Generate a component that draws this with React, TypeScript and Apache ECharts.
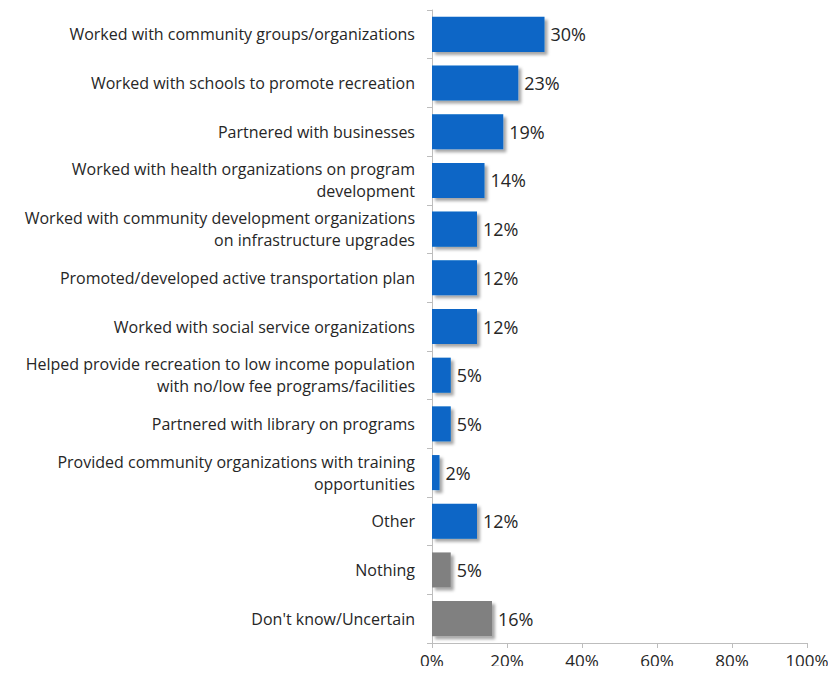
import React, { useEffect, useRef } from "react";
import * as echarts from "echarts";

const categories = [
  "Worked with community groups/organizations",
  "Worked with schools to promote recreation",
  "Partnered with businesses",
  "Worked with health organizations on program\ndevelopment",
  "Worked with community development organizations\non infrastructure upgrades",
  "Promoted/developed active transportation plan",
  "Worked with social service organizations",
  "Helped provide recreation to low income population\nwith no/low fee programs/facilities",
  "Partnered with library on programs",
  "Provided community organizations with training\nopportunities",
  "Other",
  "Nothing",
  "Don't know/Uncertain",
];
const values = [30, 23, 19, 14, 12, 12, 12, 5, 5, 2, 12, 5, 16];
const grayCategories = ["Nothing", "Don't know/Uncertain"];
const xTicks = [0, 20, 40, 60, 80, 100];

const BLUE = "#0866c6";
const GRAY = "#808080";
const FONT = "'Open Sans', 'Noto Sans', sans-serif";

export default function App() {
  const ref = useRef<HTMLDivElement>(null);
  useEffect(() => {
    if (!ref.current) return;
    const chart = echarts.init(ref.current, undefined, { renderer: "svg" });
    chart.setOption({
      animation: false,
      backgroundColor: "#ffffff",
      grid: { left: 432, right: 29, top: 10, bottom: 31, containLabel: false },
      xAxis: {
        type: "value",
        min: xTicks[0],
        max: xTicks[xTicks.length - 1],
        interval: 20,
        axisLine: { show: true, lineStyle: { color: "#bdbdbd" } },
        axisTick: { show: true, length: 5, lineStyle: { color: "#bdbdbd" } },
        splitLine: { show: false },
        axisLabel: {
          formatter: "{value}%",
          color: "#262626",
          fontSize: 17,
          fontFamily: FONT,
          margin: 9,
        },
      },
      yAxis: {
        type: "category",
        inverse: true,
        data: categories,
        axisLine: { show: true, lineStyle: { color: "#bdbdbd" } },
        axisTick: { show: true, length: 5, lineStyle: { color: "#bdbdbd" } },
        axisLabel: {
          color: "#262626",
          fontSize: 16,
          fontFamily: FONT,
          margin: 17,
          lineHeight: 22,
          align: "right",
        },
      },
      series: [
        {
          type: "bar",
          data: values.map((v, i) => ({
            value: v,
            itemStyle: {
              color: grayCategories.includes(categories[i]) ? GRAY : BLUE,
            },
          })),
          barCategoryGap: "28%",
          itemStyle: {
            shadowColor: "rgba(0,0,0,0.35)",
            shadowBlur: 3,
            shadowOffsetX: 3,
            shadowOffsetY: 3,
          },
          label: {
            show: true,
            position: "right",
            distance: 6,
            formatter: "{c}%",
            color: "#262626",
            fontSize: 18,
            fontFamily: FONT,
          },
        },
      ],
    });
    return () => chart.dispose();
  }, []);
  return <div ref={ref} style={{ width: 836, height: 674, margin: -8 }} />;
}
